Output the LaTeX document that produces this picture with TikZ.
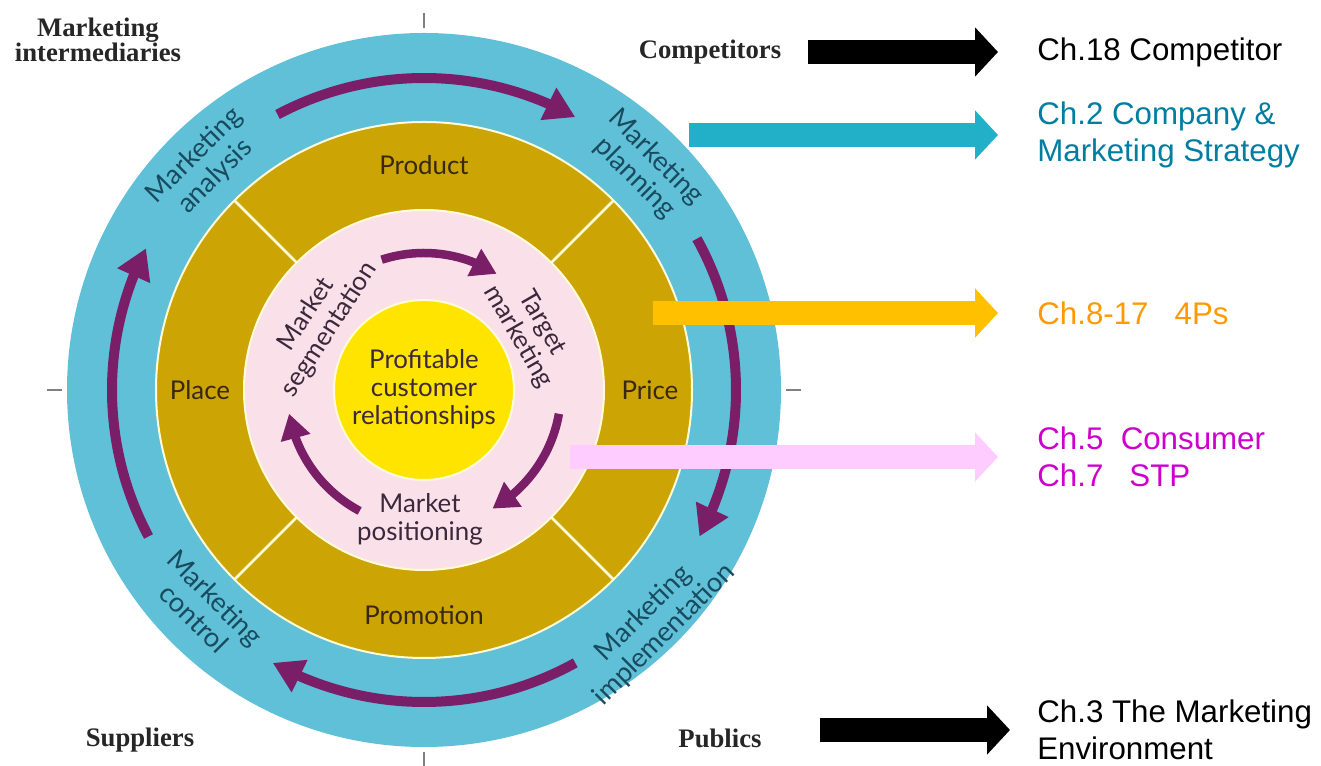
\documentclass[tikz,border=0pt]{standalone}
\usepackage{fontspec}
\usepackage{xcolor}
\usepackage{tikz}
\usetikzlibrary{arrows.meta,bending}
\usetikzlibrary{calc}

\newfontfamily\wheelfont{Lato}
\newfontfamily\chapfont{Liberation Sans}
\newfontfamily\envfont{Liberation Serif}

\definecolor{ringblue}{RGB}{95,192,216}
\definecolor{ringgold}{RGB}{204,164,4}
\definecolor{ringpink}{RGB}{250,224,232}
\definecolor{coreyellow}{RGB}{255,228,0}
\definecolor{cyclepurple}{RGB}{122,30,104}
\definecolor{edgecream}{RGB}{255,250,215}
\definecolor{bluetext}{RGB}{25,75,95}
\definecolor{goldtext}{RGB}{55,40,15}
\definecolor{pinktext}{RGB}{60,40,60}
\definecolor{chteal}{RGB}{0,125,160}
\definecolor{chorange}{RGB}{255,153,0}
\definecolor{chmagenta}{RGB}{204,0,204}
\definecolor{barteal}{RGB}{33,176,200}
\definecolor{barorange}{RGB}{255,192,0}
\definecolor{barpink}{RGB}{255,204,255}

\begin{document}
\begin{tikzpicture}[x=0.02cm, y=0.02cm,
  bluelbl/.style={font=\wheelfont\fontsize{15.5}{16.8}\selectfont, text=bluetext, align=center, inner sep=0pt},
  goldlbl/.style={font=\wheelfont\fontsize{14.7}{15.3}\selectfont, text=goldtext, align=center, inner sep=0pt},
  pinklbl/.style={font=\wheelfont\fontsize{14.7}{15.8}\selectfont, text=pinktext, align=center, inner sep=0pt},
  envlbl/.style={font=\envfont\bfseries\fontsize{15.2}{14.6}\selectfont, text=black!85, align=center, inner sep=0pt},
  chlbl/.style={font=\chapfont\fontsize{17.8}{21}\selectfont, align=left, anchor=west, inner sep=0pt},
  outarrow/.style={cyclepurple, line width=0.2cm, -{Triangle[length=0.6cm, width=0.68cm]}},
  inarrow/.style={cyclepurple, line width=0.17cm, -{Triangle[length=0.5cm, width=0.58cm]}},
  bar/.style={line width=0.48cm, -{Triangle[length=0.46cm, width=0.96cm]}, shorten >=0.78cm}]
 \useasboundingbox (-424,-376) rectangle (897,390);

 %rings
 \fill[ringblue] (0,0) circle (357);
 \filldraw[fill=ringgold, draw=edgecream, line width=0.04cm] (0,0) circle (268);
 \foreach \a in {45,135,225,315}
   \draw[edgecream, line width=0.05cm] (\a:180) -- (\a:268);
 \filldraw[fill=ringpink, draw=edgecream, line width=0.04cm] (0,0) circle (180);
 \filldraw[fill=coreyellow, draw=edgecream, line width=0.04cm] (0,0) circle (90);

 %ticks
 \foreach \a in {0,90,180,270}
   \draw[gray, line width=0.04cm] (\a:362) -- (\a:377);

 %outer cycle
 \path[draw, outarrow] (118:312) arc[start angle=118, end angle=61, radius=312];
 \path[draw, outarrow] (29:312) arc[start angle=29, end angle=-28, radius=312];
 \path[draw, outarrow] (-61:312) arc[start angle=-61, end angle=-119, radius=312];
 \path[draw, outarrow] (208:312) arc[start angle=208, end angle=153, radius=312];

 \node[bluelbl, rotate=45] (ma) at (-219,224) {Marketing\\analysis};
 \node[bluelbl, rotate=-45] (mp) at (221,222) {Marketing\\planning};
 \node[bluelbl, rotate=45] (mi) at (230,-234) {Marketing\\implementation};
 \node[bluelbl, rotate=-45] (mc) at (-219,-218) {Marketing\\control};

 %4Ps
 \node[goldlbl] (prod) at (0,225) {Product};
 \node[goldlbl] (price) at (226,0) {Price};
 \node[goldlbl] (promo) at (0,-225) {Promotion};
 \node[goldlbl] (place) at (-224,0) {Place};

 %inner cycle
 \path[draw, inarrow] (108:137) arc[start angle=108, end angle=58, radius=137];
 \path[draw, inarrow] (-10:137) arc[start angle=-10, end angle=-60, radius=137];
 \path[draw, inarrow] (242:137) arc[start angle=242, end angle=190, radius=137];

 \node[pinklbl, rotate=57] (seg) at (-106,68) {Market\\segmentation};
 \node[pinklbl, rotate=-60] (tgt) at (106,60) {Target\\marketing};
 \node[pinklbl] (pos) at (-4,-129) {Market\\positioning};
 \node[pinklbl] (core) at (0,1) {Profitable\\customer\\relationships};

 %environment
 \node[envlbl] (inter) at (-326,350) {Marketing\\intermediaries};
 \node[envlbl] (comp) at (286,338) {Competitors};
 \node[envlbl] (supp) at (-284,-350) {Suppliers};
 \node[envlbl] (pub) at (296,-348) {Publics};

 %chapters
 \node[chlbl] (c18) at (613,338) {Ch.18 Competitor};
 \node[chlbl, text=chteal] (c2) at (613,255) {Ch.2 Company \&\\Marketing Strategy};
 \node[chlbl, text=chorange] (c8) at (613,77) {Ch.8-17~~~4Ps};
 \node[chlbl, text=chmagenta] (c5) at (613,-67) {Ch.5~~Consumer\\Ch.7~~~STP};
 \node[chlbl] (c3) at (613,-340) {Ch.3 The Marketing\\Environment};

 %arrows
 \coordinate (a18) at (384,338);
 \coordinate (a2) at (265,255);
 \coordinate (a8) at (229,77);
 \coordinate (a5) at (146,-67);
 \coordinate (a3) at (396,-340);
 \path[draw, bar, black] (a18) -- (c18.west);
 \path[draw, bar, barteal] (a2) -- (c2.west);
 \path[draw, bar, barorange] (a8) -- (c8.west);
 \path[draw, bar, barpink] (a5) -- (c5.west);
 \path[draw, bar, black, shorten >=0.54cm] (a3) -- (c3.west);
\end{tikzpicture}
\end{document}
